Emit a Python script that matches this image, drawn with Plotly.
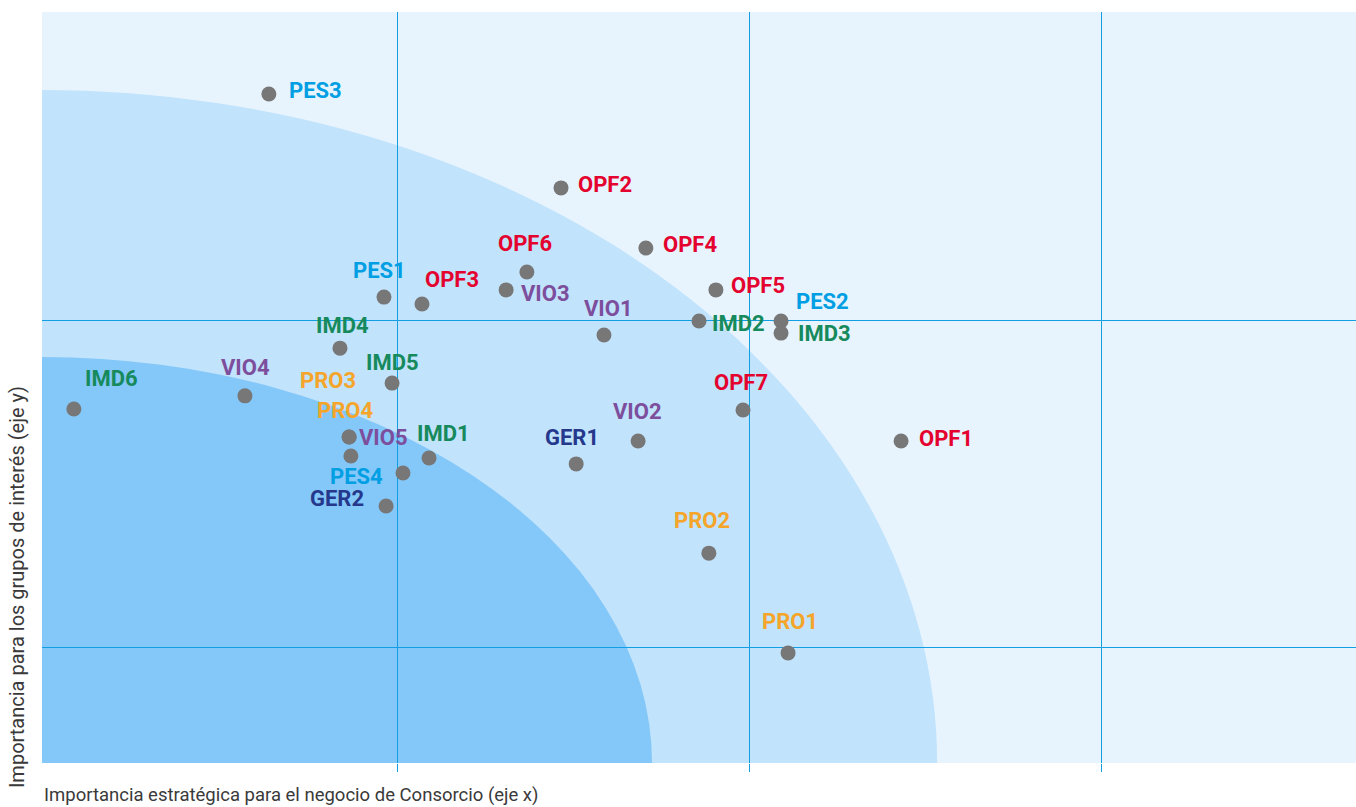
import plotly.graph_objects as go

# ---------------- data ----------------
codes = ["PES3", "OPF2", "OPF4", "OPF6", "VIO3", "PES1", "OPF3", "OPF5", "PES2", "IMD2",
         "IMD3", "VIO1", "IMD4", "IMD5", "VIO4", "IMD6", "PRO3", "PRO4", "VIO5", "PES4",
         "GER2", "IMD1", "GER1", "VIO2", "OPF7", "OPF1", "PRO2", "PRO1"]
x_vals = [0.636, 1.466, 1.707, 1.369, 1.310, 0.963, 1.071, 1.906, 2.091, 1.858,
          2.091, 1.588, 0.838, 0.986, 0.568, 0.082, 0.864, 0.864, 0.869, 1.017,
          0.969, 1.091, 1.509, 1.685, 1.983, 2.432, 1.886, 2.111]
y_vals = [2.691, 2.404, 2.220, 2.147, 2.092, 2.070, 2.049, 2.092, 1.997, 1.997,
          1.960, 1.954, 1.914, 1.807, 1.768, 1.728, 1.642, 1.642, 1.584, 1.532,
          1.431, 1.578, 1.560, 1.630, 1.725, 1.630, 1.287, 0.982]
x_grid = [1, 2, 3]
y_grid = [1, 2]
x_title = "Importancia estratégica para el negocio de Consorcio (eje x)"
y_title = "Importancia para los grupos de interés (eje y)"

# ---------------- styles / positions ----------------
GROUP_COLORS = {"OPF": "#E4032E", "PES": "#009FE3", "IMD": "#168A5C",
                "VIO": "#7C4E9C", "PRO": "#F4A52A", "GER": "#25388C"}
# label offsets in pixels (dx right, dy down)
LABEL_OFFSETS = {
    "PES3": (47, -4), "OPF2": (44, -3), "OPF4": (44, -4), "OPF6": (-2, -28),
    "VIO3": (39, 4), "PES1": (-4, -27), "OPF3": (30, -24), "OPF5": (42, -4),
    "PES2": (41, -19), "IMD2": (39, 3), "IMD3": (43, 0), "VIO1": (5, -27),
    "IMD4": (3, -23), "IMD5": (0, -21), "VIO4": (1, -28), "IMD6": (38, -30),
    "PRO3": (-21, -57), "PRO4": (-4, -27), "VIO5": (33, -19), "PES4": (-46, 3),
    "GER2": (-49, -8), "IMD1": (14, -25), "GER1": (-4, -26), "VIO2": (-1, -30),
    "OPF7": (-2, -27), "OPF1": (45, -3), "PRO2": (-7, -33), "PRO1": (2, -31),
}

X_RANGE = [-0.0085, 3.7244]
Y_RANGE = [0.6453, 2.9419]
LABEL_FONT = "Roboto, Liberation Sans, sans-serif"

fig = go.Figure()
fig.add_trace(go.Scatter(
    x=x_vals, y=y_vals, mode="markers",
    marker=dict(size=15, color="#777777", line=dict(width=0)),
    hoverinfo="text", text=codes, showlegend=False,
))

# quadrant ellipses centered at bottom-left corner
cx, cy = X_RANGE[0], Y_RANGE[0]
for rx, ry, col in [(2.543, 2.058, "#C1E3FC"), (1.733, 1.2416, "#84C7F9")]:
    fig.add_shape(type="circle", xref="x", yref="y",
                  x0=cx - rx, x1=cx + rx, y0=cy - ry, y1=cy + ry,
                  fillcolor=col, line=dict(width=0), layer="below")

annotations = []
for c, xv, yv in zip(codes, x_vals, y_vals):
    dx, dy = LABEL_OFFSETS[c]
    annotations.append(dict(
        x=xv, y=yv, xref="x", yref="y", text="<b>%s</b>" % c, showarrow=False,
        xshift=dx, yshift=-dy, xanchor="center", yanchor="middle",
        font=dict(family=LABEL_FONT, size=22, color=GROUP_COLORS[c[:3]]),
    ))
annotations.append(dict(
    x=0, y=-0.043, xref="paper", yref="paper", text=x_title, showarrow=False,
    xanchor="left", yanchor="middle",
    font=dict(family=LABEL_FONT, size=18.5, color="#3a3a3a"),
))
annotations.append(dict(
    x=-0.019, y=-0.036, xref="paper", yref="paper", text=y_title, showarrow=False,
    xanchor="center", yanchor="bottom", textangle=-90,
    font=dict(family=LABEL_FONT, size=20, color="#3a3a3a"),
))

grid_col = "#129EE2"
fig.update_layout(
    width=1356, height=807,
    margin=dict(l=42, r=0, t=12, b=44),
    paper_bgcolor="white", plot_bgcolor="#E7F4FE",
    annotations=annotations,
    xaxis=dict(range=X_RANGE, tickvals=x_grid, showticklabels=False, showgrid=True,
               gridcolor=grid_col, gridwidth=1, zeroline=False, showline=False,
               ticks="outside", ticklen=8, tickcolor=grid_col, fixedrange=True),
    yaxis=dict(range=Y_RANGE, tickvals=y_grid, showticklabels=False, showgrid=True,
               gridcolor=grid_col, gridwidth=1, zeroline=False, showline=False,
               ticks="", fixedrange=True),
)

fig.write_html("out.html",
               config={"displayModeBar": False},
               post_script="document.body.style.margin='0';"
                           "document.body.style.overflow='hidden';")
